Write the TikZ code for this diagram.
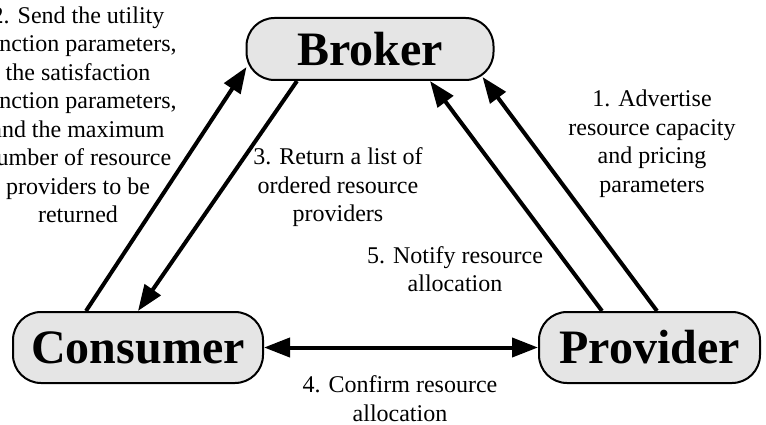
\documentclass[tikz,border=0pt]{standalone}
\usepackage{fontspec}
\setmainfont{Liberation Serif}
\usetikzlibrary{arrows.meta,calc}
\begin{document}
\begin{tikzpicture}[x=1pt,y=-1pt,
  entity/.style={draw=black,line width=2pt,fill=gray!20,rounded corners=28pt,
    inner sep=0pt,font=\fontsize{48}{50}\selectfont\bfseries},
  arr/.style={line width=4pt,-{Triangle[length=26pt,width=19pt]}},
  darr/.style={line width=4pt,{Triangle[length=26pt,width=19pt]}-{Triangle[length=26pt,width=19pt]}},
  lab/.style={align=center,inner sep=0pt,font=\fontsize{24}{28.5}\selectfont}]
\useasboundingbox (0,0) rectangle (766,425);
\node[entity,minimum width=247pt,minimum height=62pt] (broker) at (370,49) {Broker};
\node[entity,minimum width=250pt,minimum height=71pt] (consumer) at (138,347.5) {Consumer};
\node[entity,minimum width=221pt,minimum height=71pt] (provider) at (649.5,347.5) {Provider};

\coordinate (c2s) at ($(consumer.north west)+(74,0)$);
\coordinate (b2e) at ($(broker.west)+(1,18)$);
\coordinate (b3s) at ($(broker.south)+(-73,0)$);
\coordinate (b1e) at ($(broker.east)+(-12,28)$);
\coordinate (b5e) at ($(broker.south)+(60,0)$);
\coordinate (p1s) at ($(provider.north)+(7.5,0)$);
\coordinate (p5s) at ($(provider.north)+(-47.5,0)$);

\draw[arr] (c2s) -- (b2e);
\draw[arr] (b3s) -- (consumer.north);
\draw[arr] (p1s) -- (b1e);
\draw[arr] (p5s) -- (b5e);
\draw[darr] (consumer.east) -- (provider.west);

\node[lab] (l1) at (652,143.5) {1. Advertise\\resource capacity\\and pricing\\parameters};
\node[lab] (l2) at (78,115) {2. Send the utility\\function parameters,\\the satisfaction\\function parameters,\\and the maximum\\number of resource\\providers to be\\returned};
\node[lab] (l3) at (338,187.5) {3. Return a list of\\ordered resource\\providers};
\node[lab] (l5) at (455,269) {5. Notify resource\\allocation};
\node[lab] (l4) at (400,398.5) {4. Confirm resource\\allocation};
\end{tikzpicture}
\end{document}
